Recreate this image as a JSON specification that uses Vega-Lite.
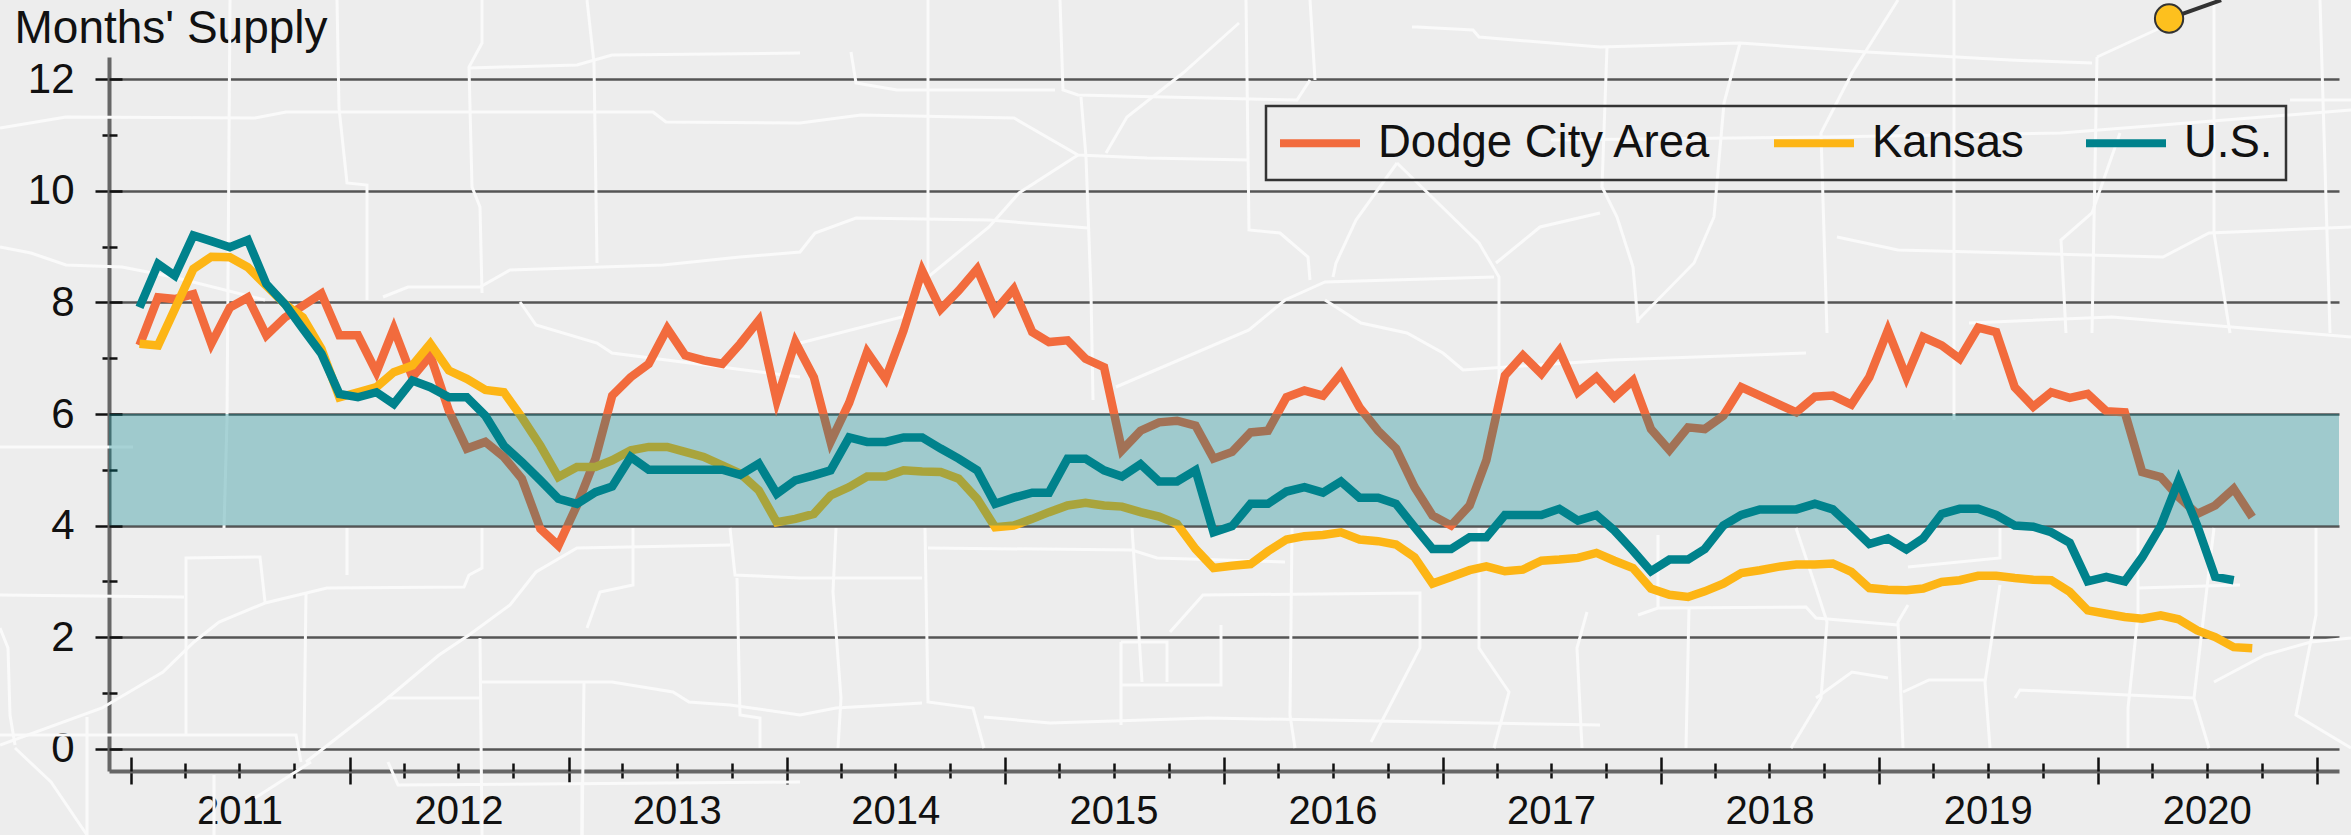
{"$schema":"https://vega.github.io/schema/vega-lite/v6.json","width":2230,"height":714,"autosize":"none","padding":{"left":109,"top":57,"right":12,"bottom":64},"background":"#EDEDED",
"datasets":{"m":[
{"date":"2011-01-15","Dodge City Area":7.23,"Kansas":7.26,"US":7.91},{"date":"2011-02-15","Dodge City Area":8.09,"Kansas":7.23,"US":8.69},{"date":"2011-03-15","Dodge City Area":8.06,"Kansas":7.88,"US":8.48},{"date":"2011-04-15","Dodge City Area":8.15,"Kansas":8.6,"US":9.2},{"date":"2011-05-15","Dodge City Area":7.26,"Kansas":8.82,"US":9.1},{"date":"2011-06-15","Dodge City Area":7.91,"Kansas":8.81,"US":8.99},{"date":"2011-07-15","Dodge City Area":8.09,"Kansas":8.63,"US":9.12},{"date":"2011-08-15","Dodge City Area":7.41,"Kansas":8.3,"US":8.33},{"date":"2011-09-15","Dodge City Area":7.73,"Kansas":7.97,"US":7.97},{"date":"2011-10-15","Dodge City Area":7.94,"Kansas":7.73,"US":7.53},{"date":"2011-11-15","Dodge City Area":8.16,"Kansas":7.17,"US":7.08},{"date":"2011-12-15","Dodge City Area":7.41,"Kansas":6.3,"US":6.36},
{"date":"2012-01-15","Dodge City Area":7.41,"Kansas":6.39,"US":6.3},{"date":"2012-02-15","Dodge City Area":6.75,"Kansas":6.48,"US":6.39},{"date":"2012-03-15","Dodge City Area":7.53,"Kansas":6.75,"US":6.18},{"date":"2012-04-15","Dodge City Area":6.66,"Kansas":6.87,"US":6.6},{"date":"2012-05-15","Dodge City Area":7.05,"Kansas":7.26,"US":6.48},{"date":"2012-06-15","Dodge City Area":6.06,"Kansas":6.78,"US":6.3},{"date":"2012-07-15","Dodge City Area":5.38,"Kansas":6.63,"US":6.3},{"date":"2012-08-15","Dodge City Area":5.5,"Kansas":6.43,"US":5.97},{"date":"2012-09-15","Dodge City Area":5.23,"Kansas":6.39,"US":5.43},{"date":"2012-10-15","Dodge City Area":4.84,"Kansas":5.94,"US":5.14},{"date":"2012-11-15","Dodge City Area":3.94,"Kansas":5.43,"US":4.81},{"date":"2012-12-15","Dodge City Area":3.64,"Kansas":4.87,"US":4.48},
{"date":"2013-01-15","Dodge City Area":4.36,"Kansas":5.05,"US":4.39},{"date":"2013-02-15","Dodge City Area":5.2,"Kansas":5.05,"US":4.6},{"date":"2013-03-15","Dodge City Area":6.33,"Kansas":5.17,"US":4.7},{"date":"2013-04-15","Dodge City Area":6.66,"Kansas":5.35,"US":5.23},{"date":"2013-05-15","Dodge City Area":6.9,"Kansas":5.41,"US":5.0},{"date":"2013-06-15","Dodge City Area":7.53,"Kansas":5.41,"US":5.0},{"date":"2013-07-15","Dodge City Area":7.05,"Kansas":5.32,"US":5.0},{"date":"2013-08-15","Dodge City Area":6.96,"Kansas":5.23,"US":5.0},{"date":"2013-09-15","Dodge City Area":6.9,"Kansas":5.08,"US":5.0},{"date":"2013-10-15","Dodge City Area":7.26,"Kansas":4.93,"US":4.91},{"date":"2013-11-15","Dodge City Area":7.68,"Kansas":4.63,"US":5.11},{"date":"2013-12-15","Dodge City Area":6.24,"Kansas":4.06,"US":4.57},
{"date":"2014-01-15","Dodge City Area":7.29,"Kansas":4.12,"US":4.81},{"date":"2014-02-15","Dodge City Area":6.66,"Kansas":4.21,"US":4.9},{"date":"2014-03-15","Dodge City Area":5.5,"Kansas":4.54,"US":4.99},{"date":"2014-04-15","Dodge City Area":6.2,"Kansas":4.69,"US":5.58},{"date":"2014-05-15","Dodge City Area":7.11,"Kansas":4.88,"US":5.5},{"date":"2014-06-15","Dodge City Area":6.63,"Kansas":4.88,"US":5.5},{"date":"2014-07-15","Dodge City Area":7.5,"Kansas":4.99,"US":5.58},{"date":"2014-08-15","Dodge City Area":8.57,"Kansas":4.97,"US":5.58},{"date":"2014-09-15","Dodge City Area":7.88,"Kansas":4.96,"US":5.38},{"date":"2014-10-15","Dodge City Area":8.21,"Kansas":4.84,"US":5.2},{"date":"2014-11-15","Dodge City Area":8.6,"Kansas":4.48,"US":4.99},{"date":"2014-12-15","Dodge City Area":7.85,"Kansas":3.97,"US":4.39},
{"date":"2015-01-15","Dodge City Area":8.24,"Kansas":4.0,"US":4.5},{"date":"2015-02-15","Dodge City Area":7.47,"Kansas":4.12,"US":4.59},{"date":"2015-03-15","Dodge City Area":7.29,"Kansas":4.24,"US":4.59},{"date":"2015-04-15","Dodge City Area":7.32,"Kansas":4.36,"US":5.2},{"date":"2015-05-15","Dodge City Area":6.99,"Kansas":4.41,"US":5.2},{"date":"2015-06-15","Dodge City Area":6.84,"Kansas":4.36,"US":4.99},{"date":"2015-07-15","Dodge City Area":5.35,"Kansas":4.34,"US":4.88},{"date":"2015-08-15","Dodge City Area":5.7,"Kansas":4.24,"US":5.1},{"date":"2015-09-15","Dodge City Area":5.85,"Kansas":4.16,"US":4.79},{"date":"2015-10-15","Dodge City Area":5.88,"Kansas":4.03,"US":4.79},{"date":"2015-11-15","Dodge City Area":5.79,"Kansas":3.58,"US":4.99},{"date":"2015-12-15","Dodge City Area":5.2,"Kansas":3.24,"US":3.88},
{"date":"2016-01-15","Dodge City Area":5.32,"Kansas":3.28,"US":3.99},{"date":"2016-02-15","Dodge City Area":5.67,"Kansas":3.31,"US":4.39},{"date":"2016-03-15","Dodge City Area":5.7,"Kansas":3.54,"US":4.39},{"date":"2016-04-15","Dodge City Area":6.3,"Kansas":3.75,"US":4.61},{"date":"2016-05-15","Dodge City Area":6.42,"Kansas":3.81,"US":4.69},{"date":"2016-06-15","Dodge City Area":6.33,"Kansas":3.83,"US":4.59},{"date":"2016-07-15","Dodge City Area":6.72,"Kansas":3.88,"US":4.79},{"date":"2016-08-15","Dodge City Area":6.12,"Kansas":3.75,"US":4.5},{"date":"2016-09-15","Dodge City Area":5.7,"Kansas":3.72,"US":4.5},{"date":"2016-10-15","Dodge City Area":5.38,"Kansas":3.66,"US":4.39},{"date":"2016-11-15","Dodge City Area":4.69,"Kansas":3.43,"US":3.97},{"date":"2016-12-15","Dodge City Area":4.18,"Kansas":2.96,"US":3.58},
{"date":"2017-01-15","Dodge City Area":4.0,"Kansas":3.08,"US":3.58},{"date":"2017-02-15","Dodge City Area":4.36,"Kansas":3.2,"US":3.79},{"date":"2017-03-15","Dodge City Area":5.17,"Kansas":3.27,"US":3.79},{"date":"2017-04-15","Dodge City Area":6.69,"Kansas":3.18,"US":4.19},{"date":"2017-05-15","Dodge City Area":7.05,"Kansas":3.21,"US":4.19},{"date":"2017-06-15","Dodge City Area":6.72,"Kansas":3.37,"US":4.19},{"date":"2017-07-15","Dodge City Area":7.14,"Kansas":3.39,"US":4.3},{"date":"2017-08-15","Dodge City Area":6.39,"Kansas":3.42,"US":4.09},{"date":"2017-09-15","Dodge City Area":6.66,"Kansas":3.51,"US":4.19},{"date":"2017-10-15","Dodge City Area":6.3,"Kansas":3.37,"US":3.91},{"date":"2017-11-15","Dodge City Area":6.6,"Kansas":3.24,"US":3.55},{"date":"2017-12-15","Dodge City Area":5.73,"Kansas":2.87,"US":3.18},
{"date":"2018-01-15","Dodge City Area":5.35,"Kansas":2.76,"US":3.39},{"date":"2018-02-15","Dodge City Area":5.76,"Kansas":2.72,"US":3.39},{"date":"2018-03-15","Dodge City Area":5.73,"Kansas":2.82,"US":3.58},{"date":"2018-04-15","Dodge City Area":5.97,"Kansas":2.96,"US":4.0},{"date":"2018-05-15","Dodge City Area":6.48,"Kansas":3.15,"US":4.19},{"date":"2018-06-15","Dodge City Area":6.33,"Kansas":3.2,"US":4.29},{"date":"2018-07-15","Dodge City Area":6.18,"Kansas":3.26,"US":4.29},{"date":"2018-08-15","Dodge City Area":6.03,"Kansas":3.3,"US":4.29},{"date":"2018-09-15","Dodge City Area":6.31,"Kansas":3.3,"US":4.39},{"date":"2018-10-15","Dodge City Area":6.33,"Kansas":3.32,"US":4.29},{"date":"2018-11-15","Dodge City Area":6.17,"Kansas":3.17,"US":3.98},{"date":"2018-12-15","Dodge City Area":6.66,"Kansas":2.88,"US":3.67},
{"date":"2019-01-15","Dodge City Area":7.5,"Kansas":2.85,"US":3.77},{"date":"2019-02-15","Dodge City Area":6.66,"Kansas":2.84,"US":3.57},{"date":"2019-03-15","Dodge City Area":7.38,"Kansas":2.87,"US":3.77},{"date":"2019-04-15","Dodge City Area":7.23,"Kansas":2.99,"US":4.21},{"date":"2019-05-15","Dodge City Area":6.99,"Kansas":3.02,"US":4.3},{"date":"2019-06-15","Dodge City Area":7.55,"Kansas":3.1,"US":4.3},{"date":"2019-07-15","Dodge City Area":7.47,"Kansas":3.1,"US":4.19},{"date":"2019-08-15","Dodge City Area":6.48,"Kansas":3.06,"US":4.0},{"date":"2019-09-15","Dodge City Area":6.13,"Kansas":3.03,"US":3.98},{"date":"2019-10-15","Dodge City Area":6.39,"Kansas":3.02,"US":3.88},{"date":"2019-11-15","Dodge City Area":6.29,"Kansas":2.81,"US":3.69},{"date":"2019-12-15","Dodge City Area":6.36,"Kansas":2.48,"US":3.0},
{"date":"2020-01-15","Dodge City Area":6.05,"Kansas":2.42,"US":3.08},{"date":"2020-02-15","Dodge City Area":6.03,"Kansas":2.36,"US":3.0},{"date":"2020-03-15","Dodge City Area":4.96,"Kansas":2.33,"US":3.43},{"date":"2020-04-15","Dodge City Area":4.87,"Kansas":2.39,"US":3.99},{"date":"2020-05-15","Dodge City Area":4.51,"Kansas":2.32,"US":4.81},{"date":"2020-06-15","Dodge City Area":4.21,"Kansas":2.12,"US":4.0},{"date":"2020-07-15","Dodge City Area":4.36,"Kansas":2.0,"US":3.08},{"date":"2020-08-15","Dodge City Area":4.66,"Kansas":1.82,"US":3.02},{"date":"2020-09-15","Dodge City Area":4.15,"Kansas":1.8}
],
"roads":[
{"road":1,"east":[0,66,255,286,653,666,800,861,1014,1078,1147,1249],"south":[128,117,118,112,112,122,123,115,118,155,158,160]},
{"road":2,"east":[337,339,347,367,367],"south":[0,108,183,185,300]},
{"road":3,"east":[482,482,469,472,480,482],"south":[0,43,67,187,207,293]},
{"road":4,"east":[587,594,597],"south":[0,63,263]},
{"road":5,"east":[469,577,612,800],"south":[68,65,55,53]},
{"road":6,"east":[383,408,480,510,663,740,800,815,856,989,1088],"south":[297,287,287,270,265,257,252,233,218,220,228]},
{"road":7,"east":[0,31,66,122,173,265],"south":[247,253,265,267,277,300]},
{"road":8,"east":[520,536,597,612,800],"south":[302,325,343,353,377]},
{"road":9,"east":[230,227,224],"south":[0,420,528]},
{"road":10,"east":[0,184],"south":[595,597]},
{"road":11,"east":[186,186,260,265],"south":[735,558,557,602]},
{"road":12,"east":[0,102,163,194,219,265,327,464,469,482,482],"south":[745,708,672,642,622,603,588,587,575,568,528]},
{"road":13,"east":[306,383,439,469,510,536,577,730],"south":[762,702,655,635,605,572,548,545]},
{"road":14,"east":[482,612,673,689,730,800,836,922],"south":[682,682,692,702,705,715,708,703]},
{"road":15,"east":[388,482],"south":[698,698]},
{"road":16,"east":[480,482],"south":[638,835]},
{"road":17,"east":[347,347],"south":[528,575]},
{"road":18,"east":[306,304],"south":[592,748]},
{"road":19,"east":[0,296,301],"south":[735,735,762]},
{"road":20,"east":[587,600,633,633],"south":[628,592,585,528]},
{"road":21,"east":[584,582],"south":[682,835]},
{"road":22,"east":[730,735,800,922],"south":[528,575,578,578]},
{"road":23,"east":[737,740,760,760],"south":[578,715,718,748]},
{"road":24,"east":[928,928],"south":[0,277]},
{"road":25,"east":[1060,1063,1078,1297,1310],"south":[0,90,95,100,80]},
{"road":26,"east":[851,856,897,1055],"south":[52,83,90,90]},
{"road":27,"east":[1081,1086,1091,1093],"south":[97,157,293,400]},
{"road":28,"east":[1239,1183,1127,1106],"south":[23,73,117,153]},
{"road":29,"east":[1078,1019,989,928,902,800],"south":[155,193,227,277,317,343]},
{"road":30,"east":[1246,1249,1280,1308,1310],"south":[0,230,233,257,280]},
{"road":31,"east":[1310,1315],"south":[0,80]},
{"road":32,"east":[1116,1249,1285,1325,1494],"south":[387,330,300,282,277]},
{"road":33,"east":[1325,1361,1407,1443,1463,1612,1806],"south":[300,323,333,353,370,360,353]},
{"road":34,"east":[1397,1356,1336,1333],"south":[163,220,263,277]},
{"road":35,"east":[1397,1479,1499,1499],"south":[163,243,277,420]},
{"road":36,"east":[1496,1540,1600],"south":[263,227,213]},
{"road":37,"east":[1412,1417,1473,1479,1600,1740,1867,2010,2092],"south":[27,27,30,37,47,43,52,60,63]},
{"road":38,"east":[836,833,841,838],"south":[528,592,698,748]},
{"road":39,"east":[925,928,973,984],"south":[528,702,708,748]},
{"road":40,"east":[984,1050,1208,1600],"south":[717,723,718,725]},
{"road":41,"east":[928,1132,1157,1285],"south":[548,550,558,562]},
{"road":42,"east":[1132,1142],"south":[528,682]},
{"road":43,"east":[1121,1121],"south":[642,725]},
{"road":44,"east":[1121,1221,1221],"south":[685,685,625]},
{"road":45,"east":[1121,1167,1167],"south":[642,642,682]},
{"road":46,"east":[1170,1203,1420,1420,1371],"south":[632,595,593,648,742]},
{"road":47,"east":[1292,1290,1295],"south":[528,715,748]},
{"road":48,"east":[1479,1479,1509,1494],"south":[528,648,692,748]},
{"road":49,"east":[1587,1577,1582],"south":[612,648,748]},
{"road":50,"east":[1638,1658,1806,1816,1898],"south":[615,608,607,618,625]},
{"road":51,"east":[1658,1658],"south":[535,608]},
{"road":52,"east":[1689,1686],"south":[608,748]},
{"road":53,"east":[1796,1816,1827,1821,1791],"south":[528,588,622,698,748]},
{"road":54,"east":[1816,1852,1888],"south":[698,672,678]},
{"road":55,"east":[1908,1898,1903],"south":[605,622,748]},
{"road":56,"east":[1903,1929,1985],"south":[692,680,680]},
{"road":57,"east":[2000,2000,1908],"south":[528,558,567]},
{"road":58,"east":[2000,1985,1990],"south":[585,682,748]},
{"road":59,"east":[2015,2020,2128,2194],"south":[698,690,695,698]},
{"road":60,"east":[2128,2128,2138,2138],"south":[748,708,615,528]},
{"road":61,"east":[2138,2240],"south":[588,585]},
{"road":62,"east":[2209,2194,2214],"south":[748,698,528]},
{"road":63,"east":[2214,2265,2311,2351],"south":[682,655,642,638]},
{"road":64,"east":[2316,2316,2296,2351],"south":[528,615,715,748]},
{"road":65,"east":[1607,1602,1617,1633,1638],"south":[47,187,217,267,323]},
{"road":66,"east":[1740,1724,1714,1694,1638],"south":[43,103,217,263,320]},
{"road":67,"east":[1898,1852,1821,1827],"south":[0,73,133,333]},
{"road":68,"east":[1954,1954],"south":[0,420]},
{"road":69,"east":[2097,2184],"south":[57,17]},
{"road":70,"east":[2097,2092],"south":[57,333]},
{"road":71,"east":[1837,1898,2163,2209,2351],"south":[237,250,257,233,227]},
{"road":72,"east":[1969,2112,2351],"south":[323,317,337]},
{"road":73,"east":[2066,2061,2092,2120],"south":[333,240,213,133]},
{"road":74,"east":[2214,2214,2230],"south":[0,233,333]},
{"road":75,"east":[1551,1826,2061,2351],"south":[140,137,133,110]},
{"road":76,"east":[15,51,87],"south":[748,782,835]},
{"road":77,"east":[0,8,10,15],"south":[628,648,715,745]},
{"road":78,"east":[87,87],"south":[717,835]},
{"road":79,"east":[0,133],"south":[447,447]},
{"road":80,"east":[388,398,800],"south":[762,785,782]},
{"road":81,"east":[311,255],"south":[762,798]},
{"road":82,"east":[214,214],"south":[775,835]},
{"road":83,"east":[582,582],"south":[785,835]},
{"road":84,"east":[2320,2330],"south":[0,333]},
{"road":85,"east":[2290,2351],"south":[100,100]}
]},
"layer":[
{"data":{"name":"roads"},"transform":[{"flatten":["east","south"]},{"window":[{"op":"row_number","as":"k"}]}],
"mark":{"type":"line","stroke":"#FAFAFA","strokeWidth":3,"clip":false},
"encoding":{"detail":{"field":"road"},"order":{"field":"k","type":"quantitative"},
"x":{"field":"east","type":"quantitative","axis":null,"scale":{"domain":[109,2339],"nice":false,"zero":false}},
"y":{"field":"south","type":"quantitative","axis":null,"scale":{"domain":[771,57],"nice":false,"zero":false}}}},
{"layer":[
{"data":{"name":"m"},"transform":[{"fold":["Dodge City Area","Kansas","US"],"as":["series","value"]}],
"mark":{"type":"line","strokeWidth":8.5,"interpolate":"linear"},
"encoding":{
"x":{"field":"date","type":"temporal","scale":{"type":"utc","domain":["2010-11-25","2021-02-07"]},
"axis":{"orient":"bottom","title":null,"grid":false,"values":["2011-01-01","2011-04-01","2011-07-01","2011-10-01","2012-01-01","2012-04-01","2012-07-01","2012-10-01","2013-01-01","2013-04-01","2013-07-01","2013-10-01","2014-01-01","2014-04-01","2014-07-01","2014-10-01","2015-01-01","2015-04-01","2015-07-01","2015-10-01","2016-01-01","2016-04-01","2016-07-01","2016-10-01","2017-01-01","2017-04-01","2017-07-01","2017-10-01","2018-01-01","2018-04-01","2018-07-01","2018-10-01","2019-01-01","2019-04-01","2019-07-01","2019-10-01","2020-01-01","2020-04-01","2020-07-01","2020-10-01","2021-01-01"],
"labelExpr":"utcmonth(datum.value)==6 ? utcyear(datum.value)+'' : ''","labelFlush":false,"labelOverlap":false,"labelFont":"Liberation Sans","labelFontSize":40,"labelColor":"#111","labelPadding":13,
"domainColor":"#666","domainWidth":4,"tickColor":"#111","tickWidth":2.5,"tickSize":{"condition":{"test":"utcmonth(datum.value)==0","value":13},"value":7}}},
"y":{"field":"value","type":"quantitative","scale":{"domain":[-0.4,12.4],"nice":false,"zero":false},
"axis":{"orient":"left","values":[0,1,2,3,4,5,6,7,8,9,10,11,12],"labelExpr":"datum.value%2==0 ? datum.label : ''","labelOverlap":false,"labelFont":"Liberation Sans","labelFontSize":42,"labelColor":"#111","labelPadding":21,
"domainColor":"#666","domainWidth":4,"tickColor":"#111","tickWidth":2.5,"tickSize":{"condition":{"test":"datum.value%2==0","value":14},"value":7},
"grid":true,"gridColor":"#555","gridWidth":2.5,"gridOpacity":{"condition":{"test":"datum.value%2==0","value":1},"value":0},
"title":"Months' Supply","titleAngle":0,"titleFont":"Liberation Sans","titleFontSize":46,"titleFontWeight":"normal","titleColor":"#111","titleAlign":"left","titleBaseline":"alphabetic","titleX":-95,"titleY":-15}},
"color":{"field":"series","type":"nominal","scale":{"domain":["Dodge City Area","Kansas","US"],"range":["#F26B3D","#FDB515","#00828C"]},
"legend":{"title":null,"orient":"none","legendX":1157,"legendY":49,"direction":"horizontal","columns":3,"symbolType":"M-1.15,0H2.85","symbolSize":1600,"symbolStrokeWidth":8,"labelFont":"Liberation Sans","labelFontSize":45.5,"labelColor":"#111","labelLimit":600,"labelOffset":51,"columnPadding":46,"padding":13,"strokeColor":"#333","fillColor":"transparent","labelExpr":"datum.label=='US' ? 'U.S.' : datum.label"}}}},
{"data":{"values":[{"start":"2010-11-25","end":"2021-02-07","low":4,"high":6}]},
"mark":{"type":"rect","fill":"#00828C","fillOpacity":0.33},
"encoding":{
"x":{"field":"start","type":"temporal","axis":{"orient":"top","offset":-714,"title":null,"grid":false,"labels":false,"domain":false,"values":["2011-01-01","2011-04-01","2011-07-01","2011-10-01","2012-01-01","2012-04-01","2012-07-01","2012-10-01","2013-01-01","2013-04-01","2013-07-01","2013-10-01","2014-01-01","2014-04-01","2014-07-01","2014-10-01","2015-01-01","2015-04-01","2015-07-01","2015-10-01","2016-01-01","2016-04-01","2016-07-01","2016-10-01","2017-01-01","2017-04-01","2017-07-01","2017-10-01","2018-01-01","2018-04-01","2018-07-01","2018-10-01","2019-01-01","2019-04-01","2019-07-01","2019-10-01","2020-01-01","2020-04-01","2020-07-01","2020-10-01","2021-01-01"],"tickColor":"#111","tickWidth":2.5,"tickSize":{"condition":{"test":"utcmonth(datum.value)==0","value":14},"value":8}}},
"x2":{"field":"end"},
"y":{"field":"low","type":"quantitative","axis":{"orient":"right","offset":-2230,"title":null,"grid":false,"labels":false,"domain":false,"values":[0,1,2,3,4,5,6,7,8,9,10,11,12],"tickColor":"#111","tickWidth":2.5,"tickSize":{"condition":{"test":"datum.value%2==0","value":13},"value":8}}},
"y2":{"field":"high"}}},
{"data":{"values":[{"date":"2020-04-29","value":13.09},{"date":"2020-07-25","value":13.42}]},
"mark":{"type":"line","stroke":"#333","strokeWidth":4,"clip":false},
"encoding":{"x":{"field":"date","type":"temporal","axis":null},"y":{"field":"value","type":"quantitative","axis":null}}},
{"data":{"values":[{"date":"2020-04-29","value":13.09}]},
"mark":{"type":"point","filled":true,"fill":"#FDC01E","stroke":"#333","strokeWidth":2,"opacity":1,"size":800,"clip":false},
"encoding":{"x":{"field":"date","type":"temporal","axis":null},"y":{"field":"value","type":"quantitative","axis":null}}}
],
"resolve":{"axis":{"x":"independent","y":"independent"}}}
],
"resolve":{"scale":{"x":"independent","y":"independent"},"axis":{"x":"independent","y":"independent"}},
"config":{"view":{"stroke":null},"legend":{"strokeWidth":2.5}}}
